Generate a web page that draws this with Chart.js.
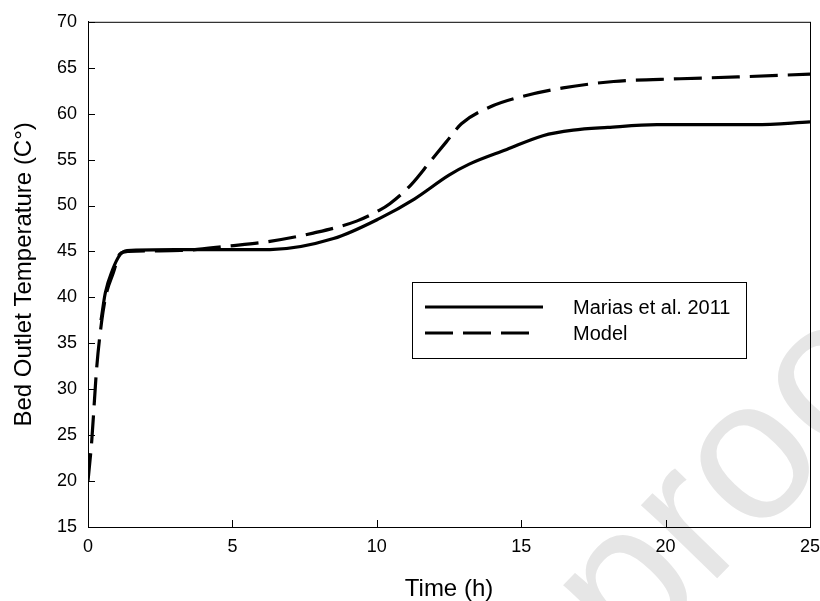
<!DOCTYPE html>
<html>
<head>
<meta charset="utf-8">
<script src="https://cdn.jsdelivr.net/npm/chart.js@4"></script>
<style>
  body { margin: 0; background: #fff; }
  #wrap { width: 820px; height: 601px; }
</style>
</head>
<body>
<div id="wrap"><canvas id="chart" width="820" height="601"></canvas></div>
<script>
// values
const mariasTime = [0.45, 0.6, 0.85, 1.1, 1.35, 3, 6.3, 8.5, 10.1, 11.3, 12.5, 13.2, 14.5, 15.75, 16.8, 18, 19.7, 23.1, 25];
const mariasTemp = [37.5, 40.5, 43, 44.6, 45.1, 45.2, 45.2, 46.4, 48.6, 50.7, 53.3, 54.5, 56.1, 57.6, 58.2, 58.5, 58.8, 58.8, 59.1];

const modelTime = [0, 0.13, 0.3, 0.47, 0.62, 0.88, 1.1, 1.4, 3.2, 4.9, 6.3, 7.8, 9.3, 10.1, 10.45, 11.2, 11.83, 12.4, 12.93, 13.9, 14.95, 16.45, 18.2, 20.5, 22.5, 25];
const modelTemp = [20, 24.4, 32.3, 37.3, 40.2, 42.7, 44.7, 45.0, 45.1, 45.6, 46.1, 47.0, 48.3, 49.5, 50.2, 52.3, 54.7, 56.9, 58.9, 60.7, 61.8, 62.8, 63.5, 63.8, 64.0, 64.3];

const xTicks = [0, 5, 10, 15, 20, 25];
const yTicks = [15, 20, 25, 30, 35, 40, 45, 50, 55, 60, 65, 70];

const seriesNames = ['Marias et al. 2011', 'Model'];

const FONT = '"Liberation Sans", Arial, sans-serif';

function toPoints(xs, ys) {
    return xs.map((x, i) => ({ x: x, y: ys[i] }));
}

// light "proof" watermark behind everything
const watermark = {
    id: 'watermark',
    beforeDraw(chart) {
        const ctx = chart.ctx;
        ctx.save();
        ctx.translate(630, 668);
        ctx.rotate(-0.8);
        ctx.font = '200px ' + FONT;
        ctx.fillStyle = '#e6e6e6';
        ctx.textBaseline = 'alphabetic';
        ctx.fillText('proof', 0, 0);
        ctx.restore();
    }
};

// frame, inward ticks and the boxed legend
const frame = {
    id: 'frame',
    afterDatasetsDraw(chart) {
        const ctx = chart.ctx;
        const a = chart.chartArea;
        const xs = chart.scales.x;
        const ys = chart.scales.y;
        ctx.save();
        ctx.strokeStyle = '#000';
        ctx.lineWidth = 1;
        ctx.setLineDash([]);
        ctx.strokeRect(a.left + 0.5, a.top + 0.5, a.right - a.left, a.bottom - a.top);
        ctx.beginPath();
        xTicks.forEach(v => {
            const px = Math.round(xs.getPixelForValue(v)) + 0.5;
            ctx.moveTo(px, a.bottom);
            ctx.lineTo(px, a.bottom - 7);
        });
        yTicks.forEach(v => {
            const py = Math.round(ys.getPixelForValue(v)) + 0.5;
            ctx.moveTo(a.left, py);
            ctx.lineTo(a.left + 7, py);
        });
        ctx.stroke();

        // legend
        const bx = 412, by = 282, bw = 334, bh = 76;
        ctx.fillStyle = '#fff';
        ctx.fillRect(bx, by, bw, bh);
        ctx.strokeRect(bx + 0.5, by + 0.5, bw, bh);
        const rows = [307, 333];
        const lens = [118, 107];
        chart.data.datasets.forEach((ds, i) => {
            ctx.beginPath();
            ctx.lineWidth = ds.borderWidth;
            ctx.strokeStyle = ds.borderColor;
            ctx.setLineDash(ds.borderDash || []);
            ctx.moveTo(425, rows[i]);
            ctx.lineTo(425 + lens[i], rows[i]);
            ctx.stroke();
            ctx.setLineDash([]);
            ctx.fillStyle = '#000';
            ctx.font = '20px ' + FONT;
            ctx.textBaseline = 'middle';
            ctx.fillText(ds.label, 573, rows[i] + 1);
        });
        ctx.restore();
    }
};

const ctx = document.getElementById('chart').getContext('2d');
const myChart = new Chart(ctx, {
    type: 'line',
    data: {
        datasets: [{
            label: seriesNames[0],
            data: toPoints(mariasTime, mariasTemp),
            borderColor: '#000',
            borderWidth: 3.2,
            pointRadius: 0,
            cubicInterpolationMode: 'monotone',
            fill: false
        }, {
            label: seriesNames[1],
            data: toPoints(modelTime, modelTemp),
            borderColor: '#000',
            borderWidth: 3.2,
            borderDash: [28, 10],
            pointRadius: 0,
            cubicInterpolationMode: 'monotone',
            fill: false
        }]
    },
    options: {
        responsive: false,
        animation: false,
        layout: { padding: { left: 0, right: 10, top: 17, bottom: 0 } },
        plugins: {
            legend: { display: false },
            tooltip: { enabled: false }
        },
        scales: {
            x: {
                type: 'linear',
                min: 0,
                max: 25,
                afterBuildTicks: (scale) => { scale.ticks = xTicks.map(v => ({ value: v })); },
                afterFit: (scale) => { scale.height = 74; scale.paddingLeft = 0; scale.paddingRight = 0; },
                grid: { display: true, drawOnChartArea: false, drawTicks: false },
                border: { display: true, color: '#000', width: 1 },
                ticks: { color: '#000', font: { family: FONT, size: 18 }, padding: 9, maxRotation: 0 },
                title: {
                    display: true,
                    text: 'Time (h)',
                    color: '#000',
                    font: { family: FONT, size: 24 },
                    padding: { top: 0, bottom: -3 }
                }
            },
            y: {
                type: 'linear',
                min: 15,
                max: 70,
                afterBuildTicks: (scale) => { scale.ticks = yTicks.map(v => ({ value: v })); },
                afterFit: (scale) => { scale.width = 88; },
                grid: { display: true, drawOnChartArea: false, drawTicks: false },
                border: { display: true, color: '#000', width: 1 },
                ticks: { color: '#000', font: { family: FONT, size: 18 }, padding: 11 },
                title: {
                    display: true,
                    text: 'Bed Outlet Temperature (C°)',
                    color: '#000',
                    font: { family: FONT, size: 24 },
                    padding: { top: 10, bottom: 0 }
                }
            }
        }
    },
    plugins: [watermark, frame]
});
</script>
</body>
</html>
